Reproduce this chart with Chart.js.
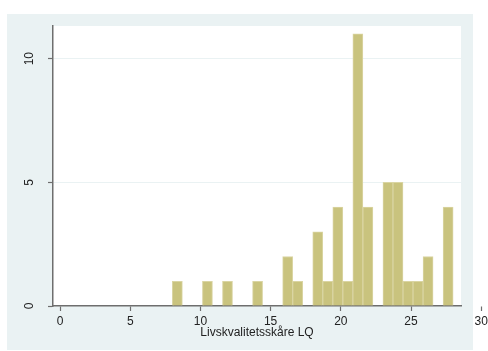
<!DOCTYPE html>
<html>
<head>
<meta charset="utf-8">
<script src="https://cdn.jsdelivr.net/npm/chart.js@4/dist/chart.umd.min.js"></script>
<style>
  html, body { margin: 0; padding: 0; background: #ffffff; }
  canvas { display: block; }
</style>
</head>
<body>
<canvas id="chart" width="488" height="351"></canvas>
<script>
// Histogram of quality-of-life scores: 28 equal-width bins spanning 8 to 28
const binStart = 8;
const binEnd = 28;
const binCounts = [1, 0, 0, 1, 0, 1, 0, 0, 1, 0, 0, 2, 1, 0, 3, 1, 4, 1, 11, 4, 0, 5, 5, 1, 1, 2, 0, 4];
const xTickValues = [0, 5, 10, 15, 20, 25, 30];
const yTickValues = [0, 5, 10];
const xTitle = 'Livskvalitetsskåre LQ';

const binWidth = (binEnd - binStart) / binCounts.length;
const barPoints = binCounts.map((n, i) => ({ x: binStart + (i + 0.5) * binWidth, y: n }));

const FONT = "'Liberation Sans', Arial, Helvetica, sans-serif";
const AXIS = '#6e6e6e';
const PANEL = '#eaf2f3';

// Stata-like backdrop: light outer panel, white plot region
const backdrop = {
  id: 'backdrop',
  beforeDraw(chart) {
    const { ctx, chartArea: a } = chart;
    ctx.save();
    ctx.fillStyle = '#ffffff';
    ctx.fillRect(0, 0, chart.width, chart.height);
    ctx.fillStyle = PANEL;
    ctx.fillRect(7, 14, 466, 336);
    ctx.fillStyle = '#ffffff';
    ctx.fillRect(a.left, a.top, a.right - a.left, a.bottom - a.top);
    ctx.restore();
  }
};

new Chart(document.getElementById('chart'), {
  type: 'bar',
  data: {
    datasets: [{
      data: barPoints,
      backgroundColor: 'rgb(201,195,126)',
      borderColor: 'rgb(218,213,163)',
      borderWidth: 1,
      barPercentage: 1,
      categoryPercentage: 1
    }]
  },
  options: {
    responsive: false,
    animation: false,
    devicePixelRatio: 1,
    layout: { padding: { left: 7, top: 26, right: 27, bottom: 0 } },
    plugins: { legend: { display: false }, tooltip: { enabled: false } },
    scales: {
      x: {
        type: 'linear',
        offset: false,
        min: -0.5,
        max: 28.56,
        afterBuildTicks: s => { s.ticks = xTickValues.map(v => ({ value: v })); },
        afterFit: s => { s.height = 45; s.paddingLeft = 0; s.paddingRight = 0; },
        ticks: {
          autoSkip: false, minRotation: 0, maxRotation: 0, padding: 3,
          color: '#222222', font: { family: FONT, size: 12 }
        },
        grid: { offset: false, drawOnChartArea: false, drawTicks: true, tickLength: 5, tickColor: AXIS, tickWidth: 1.2 },
        border: { color: AXIS, width: 1.5 },
        title: {
          display: true, text: xTitle, color: '#222222',
          font: { family: FONT, size: 12 }, padding: { top: 0, bottom: 11 }
        }
      },
      y: {
        min: 0,
        max: 11.32,
        afterBuildTicks: s => { s.ticks = yTickValues.map(v => ({ value: v })); },
        afterFit: s => { s.width = 46; s.paddingTop = 0; s.paddingBottom = 0; },
        ticks: {
          minRotation: 90, maxRotation: 90, crossAlign: 'center', padding: 12,
          color: '#222222', font: { family: FONT, size: 12 }
        },
        grid: {
          color: c => (c.tick && c.tick.value === 0 ? 'rgba(0,0,0,0)' : PANEL),
          lineWidth: 1, tickLength: 5, tickColor: AXIS, tickWidth: 1.2
        },
        border: { color: AXIS, width: 1.5 }
      }
    }
  },
  plugins: [backdrop]
});
</script>
</body>
</html>
